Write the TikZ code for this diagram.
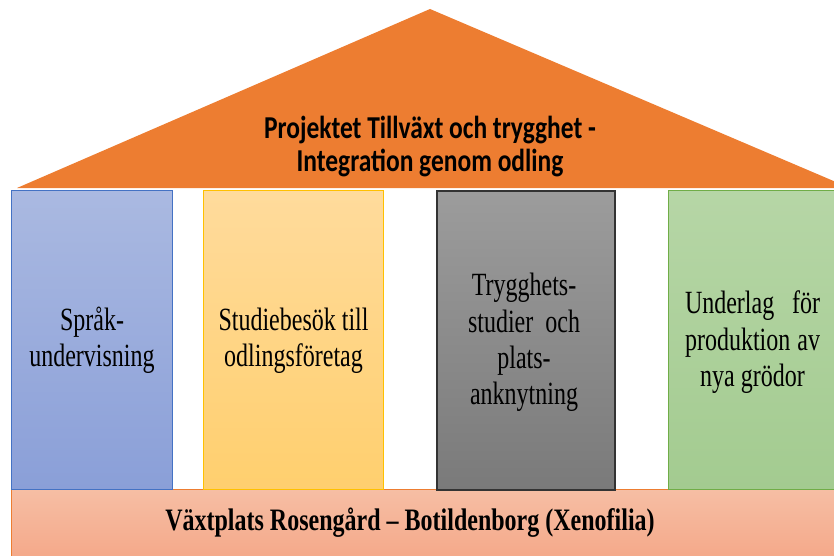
\documentclass[tikz,border=0pt]{standalone}
\usepackage{fontspec}
\setmainfont{Liberation Serif}
\newfontfamily\roofont{Carlito}
\usepackage{graphicx}
\definecolor{roofc}{HTML}{ED7D31}
\definecolor{b1t}{HTML}{AAB9E1}\definecolor{b1b}{HTML}{8A9FD8}\definecolor{b1d}{HTML}{4472C4}
\definecolor{y1t}{HTML}{FFDB9C}\definecolor{y1b}{HTML}{FFCF6E}\definecolor{y1d}{HTML}{FFC000}
\definecolor{g1t}{HTML}{9C9C9C}\definecolor{g1b}{HTML}{7A7A7A}\definecolor{g1d}{HTML}{333333}
\definecolor{n1t}{HTML}{B6D6A6}\definecolor{n1b}{HTML}{A3CB90}\definecolor{n1d}{HTML}{70AD47}
\definecolor{p1t}{HTML}{F6BEA4}\definecolor{p1b}{HTML}{F4A585}
\newcommand{\vstr}[2]{\scalebox{1}[#1]{\begin{tabular}{@{}c@{}}#2\end{tabular}}}
\begin{document}
\begin{tikzpicture}[x=1pt,y=-1pt,
  pillar/.style={draw, line width=1pt, rectangle, inner sep=0pt, anchor=north west},
  pilltext/.style={font=\fontsize{24}{27}\selectfont, inner sep=0pt},
  rooftext/.style={font=\roofont\bfseries\fontsize{25.5}{26.5}\selectfont, inner sep=0pt},
  basetext/.style={font=\bfseries\fontsize{24}{26}\selectfont, inner sep=0pt}]
\useasboundingbox (0,0) rectangle (834,556);
% roof
\fill[roofc] (17,188) -- (430,9) -- (850,188) -- cycle;
\node[rooftext] (roof) at (430,148) {\vstr{1.25}{Projektet Tillväxt och trygghet -\\Integration genom odling}};
% base
\node[draw=roofc, line width=1.2pt, top color=p1t, bottom color=p1b, minimum width=850pt, minimum height=80pt, anchor=north west, inner sep=0pt] (base) at (11,489) {};
\node[basetext] (basetxt) at (410,524) {\vstr{1.3}{Växtplats Rosengård – Botildenborg (Xenofilia)}};
% pillars
\node[pillar, draw=b1d, top color=b1t, bottom color=b1b, minimum width=161pt, minimum height=299pt] (p1) at (11,190) {};
\node[pilltext] (t1) at (92,341) {\vstr{1.35}{Språk-\\undervisning}};
\node[pillar, draw=y1d, top color=y1t, bottom color=y1b, minimum width=180pt, minimum height=299pt] (p2) at (203,190) {};
\node[pilltext] (t2) at (293.5,341) {\vstr{1.35}{Studiebesök till\\odlingsföretag}};
\node[pillar, draw=g1d, line width=1.8pt, top color=g1t, bottom color=g1b, minimum width=178pt, minimum height=299pt] (p3) at (436,190) {};
\node[pilltext] (t3) at (524,343) {\vstr{1.35}{Trygghets-\\\makebox[112pt][s]{studier och}\\plats-\\anknytning}};
\node[pillar, draw=n1d, top color=n1t, bottom color=n1b, minimum width=190pt, minimum height=299pt] (p4) at (668,190) {};
\node[pilltext] (t4) at (752.5,343) {\vstr{1.35}{\makebox[135pt][s]{Underlag för}\\\makebox[135pt][s]{produktion av}\\nya grödor}};
\end{tikzpicture}
\end{document}
